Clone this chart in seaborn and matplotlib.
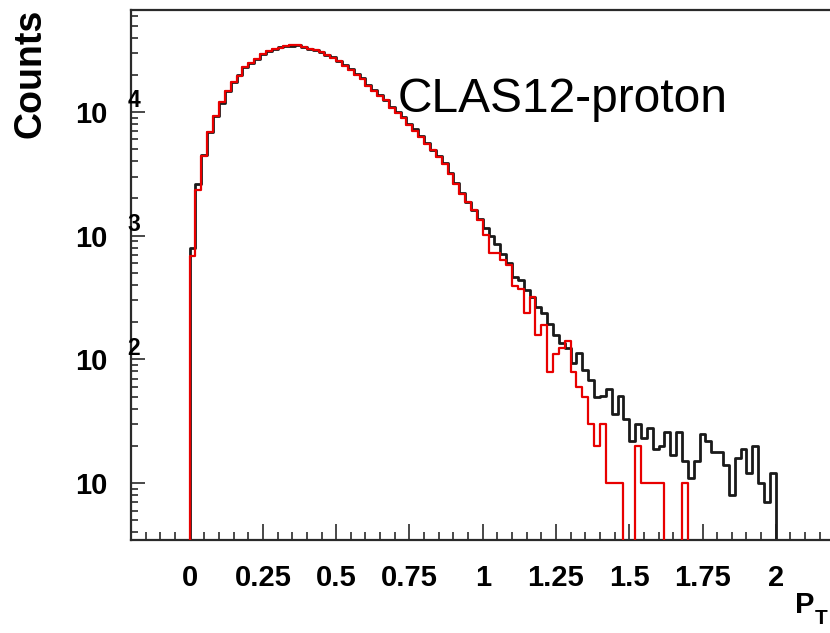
import numpy as np
import pandas as pd
import matplotlib
matplotlib.use("Agg")
import matplotlib.pyplot as plt
import seaborn as sns
from matplotlib.ticker import MultipleLocator, LogLocator, NullFormatter

# ---------------- data (bin width 0.02 in P_T, 0 .. 2) ----------------
bin_width = 0.02
n_bins = 100

counts_all = [
    789, 2612, 4490, 6920, 9270, 11880, 14760, 17550, 19880, 22950,
    25000, 26600, 29200, 31300, 32100, 33300, 34100, 34300, 34800, 33700,
    32300, 31700, 30500, 28800, 27600, 25900, 23900, 22100, 20200, 18700,
    16500, 15000, 13700, 12500, 10900, 10000, 9040, 7980, 7230, 6380,
    5630, 4920, 4400, 3840, 3200, 2650, 2197, 1880, 1610, 1355,
    1145, 1000, 850, 710, 600, 466, 438, 363, 317, 266,
    235, 195, 157, 135, 123, 93, 112, 82, 68, 50,
    51, 58, 36, 51, 33, 22, 30, 23, 28, 19,
    20, 26, 17, 26, 15, 11, 15, 25, 22, 18,
    18, 14, 8, 16, 19, 12, 20, 10, 7, 12,
]

counts_proton = [
    684, 2340, 4450, 6950, 9200, 11950, 14700, 17600, 19700, 23100,
    24800, 26900, 29400, 31200, 32300, 33200, 34200, 34500, 34900, 33600,
    32100, 31800, 30300, 28700, 27300, 25800, 23600, 22000, 19800, 18600,
    16300, 14900, 13400, 12400, 10700, 9900, 8900, 7900, 7050, 6300,
    5550, 4900, 4300, 3800, 3150, 2620, 2180, 1860, 1600, 1340,
    1010, 720, 730, 640, 580, 392, 368, 238, 321, 157,
    189, 79, 110, 123, 141, 79, 60, 50, 30, 20,
    30, 10, 10, 10, 0, 0, 20, 10, 10, 10,
    10, 0, 0, 0, 10, 0, 0, 0, 0, 0,
    0, 0, 0, 0, 0, 0, 0, 0, 0, 0,
]

x_tick_values = [0, 0.25, 0.5, 0.75, 1, 1.25, 1.5, 1.75, 2]
x_tick_labels = ["0", "0.25", "0.5", "0.75", "1", "1.25", "1.5", "1.75", "2"]
y_decades = [1, 2, 3, 4]

# padded with one empty bin each side so the outline drops to the axis
edges = [round(i * bin_width, 4) for i in range(-1, n_bins + 2)]
centers = [e + bin_width / 2 for e in edges[:-1]]
df_all = pd.DataFrame({"pt": centers, "w": [0] + counts_all + [0]})
df_pro = pd.DataFrame({"pt": centers, "w": [0] + counts_proton + [0]})

# ---------------- style ----------------
sns.set_style("ticks")
plt.rcParams["font.family"] = ["Liberation Sans", "DejaVu Sans"]
plt.rcParams["text.color"] = "black"

W, H = 830, 633
fig = plt.figure(figsize=(W / 100, H / 100), dpi=100)
ax = fig.add_axes([131 / W, 1 - 540 / H, (834.4 - 131) / W, (540 - 10) / H])

sns.histplot(data=df_all, x="pt", weights="w", bins=edges, element="step",
             fill=False, color="#1a1a1a", linewidth=2.0, ax=ax, zorder=2)
sns.histplot(data=df_pro, x="pt", weights="w", bins=edges, element="step",
             fill=False, color="#e80000", linewidth=1.6, ax=ax, zorder=3)

ax.set_yscale("log")
ax.set_xlim(-0.2, 2.2)
ax.set_ylim(3.467, 66780)
ax.set_xlabel("")
ax.set_ylabel("")

for s in ax.spines.values():
    s.set_linewidth(1.6)
    s.set_color("#2a2a2a")
    s.set_visible(True)

ax.set_xticks(x_tick_values)
ax.set_xticklabels(x_tick_labels)
ax.xaxis.set_minor_locator(MultipleLocator(0.05))
ax.set_yticks([10 ** d for d in y_decades])
ax.set_yticklabels(["10"] * len(y_decades))
ax.yaxis.set_minor_locator(LogLocator(base=10, subs=range(2, 10), numticks=20))
ax.yaxis.set_minor_formatter(NullFormatter())

ax.tick_params(axis="both", which="both", direction="in", top=False, right=False,
               color="#2a2a2a", width=1.2)
ax.tick_params(axis="x", which="major", length=11.5, pad=17, labelsize=21,
               labelcolor="black")
ax.tick_params(axis="x", which="minor", length=5.5)
ax.tick_params(axis="y", which="major", length=10, pad=17, labelsize=21,
               labelcolor="black")
ax.tick_params(axis="y", which="minor", length=5)
for lab in ax.get_xticklabels() + ax.get_yticklabels():
    lab.set_fontweight("bold")

# exponents of the decade labels (ROOT style)
for d in y_decades:
    if d == 1:
        continue
    ax.annotate(str(d), xy=(0, 10 ** d), xycoords=("axes fraction", "data"),
                xytext=(-2.5, 8), textcoords="offset points", ha="left",
                va="center", fontsize=16.5, fontweight="bold", color="black",
                annotation_clip=False)

# axis titles
fig.text(31 / W, 1 - 9 / H, "Counts", rotation=90, ha="center", va="top",
         fontsize=27, fontweight="bold", color="black")
fig.text(795 / W, 1 - 613 / H, "P", ha="left", va="baseline",
         fontsize=21, fontweight="bold", color="black")
fig.text(815 / W, 1 - 624 / H, "T", ha="left", va="baseline",
         fontsize=15, fontweight="bold", color="black")

# label
fig.text(398 / W, 1 - 111.7 / H, "CLAS12-proton", ha="left", va="baseline",
         fontsize=34.5, color="black")

fig.savefig("out.png", dpi=100)
